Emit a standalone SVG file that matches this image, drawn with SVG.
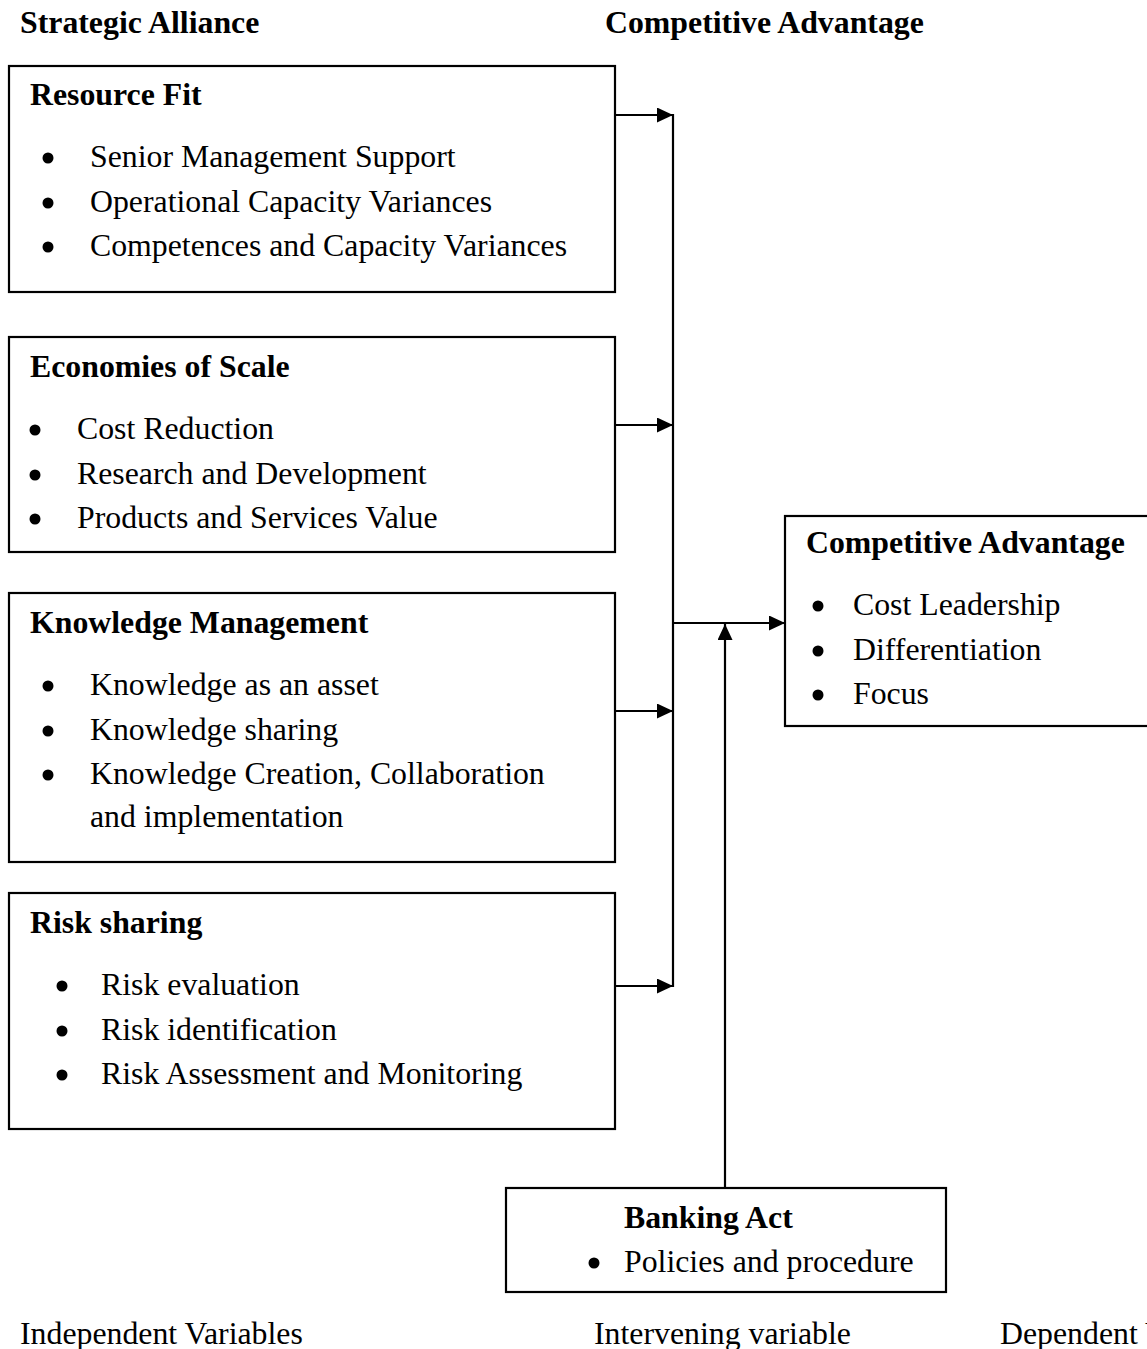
<svg xmlns="http://www.w3.org/2000/svg" width="1147" height="1349" viewBox="0 0 1147 1349">
<defs>
<style>
text{font-family:"Liberation Serif","Times New Roman",serif;font-size:31.8px;fill:#000}
.b{font-weight:bold}
.box{fill:#fff;stroke:#000;stroke-width:2.2}
.ln{stroke:#000;stroke-width:2.2;fill:none}
.dot{fill:#000}
</style>
<marker id="ah" viewBox="0 0 16 15" refX="16" refY="7.5" markerWidth="16" markerHeight="15" markerUnits="userSpaceOnUse" orient="auto">
<path d="M0,0 L16,7.5 L0,15 Z" fill="#000"/>
</marker>
</defs>
<rect width="1147" height="1349" fill="#fff"/>

<g id="headers">
<text class="b" x="20" y="33">Strategic Alliance</text>
<text class="b" x="605" y="33">Competitive Advantage</text>
</g>

<g id="resource-fit">
<rect class="box" x="9" y="66" width="606" height="226"/>
<text class="b" x="30" y="105">Resource Fit</text>
<circle class="dot" cx="48" cy="158" r="5.5"/>
<text x="90" y="167">Senior Management Support</text>
<circle class="dot" cx="48" cy="203" r="5.5"/>
<text x="90" y="211.5">Operational Capacity Variances</text>
<circle class="dot" cx="48" cy="247" r="5.5"/>
<text x="90" y="256">Competences and Capacity Variances</text>
</g>

<g id="economies-of-scale">
<rect class="box" x="9" y="337" width="606" height="215"/>
<text class="b" x="30" y="377">Economies of Scale</text>
<circle class="dot" cx="35" cy="430" r="5.5"/>
<text x="77" y="439">Cost Reduction</text>
<circle class="dot" cx="35" cy="475" r="5.5"/>
<text x="77" y="484">Research and Development</text>
<circle class="dot" cx="35" cy="519" r="5.5"/>
<text x="77" y="528">Products and Services Value</text>
</g>

<g id="knowledge-management">
<rect class="box" x="9" y="593" width="606" height="269"/>
<text class="b" x="30" y="633">Knowledge Management</text>
<circle class="dot" cx="48" cy="686" r="5.5"/>
<text x="90" y="695">Knowledge as an asset</text>
<circle class="dot" cx="48" cy="731" r="5.5"/>
<text x="90" y="740">Knowledge sharing</text>
<circle class="dot" cx="48" cy="775" r="5.5"/>
<text x="90" y="784">Knowledge Creation, Collaboration</text>
<text x="90" y="827">and implementation</text>
</g>

<g id="risk-sharing">
<rect class="box" x="9" y="893" width="606" height="236"/>
<text class="b" x="30" y="933">Risk sharing</text>
<circle class="dot" cx="62" cy="986" r="5.5"/>
<text x="101" y="995">Risk evaluation</text>
<circle class="dot" cx="62" cy="1031" r="5.5"/>
<text x="101" y="1040">Risk identification</text>
<circle class="dot" cx="62" cy="1075" r="5.5"/>
<text x="101" y="1084">Risk Assessment and Monitoring</text>
</g>

<g id="competitive-advantage">
<rect class="box" x="785" y="516" width="380" height="210"/>
<text class="b" x="806" y="553">Competitive Advantage</text>
<circle class="dot" cx="818" cy="606" r="5.5"/>
<text x="853" y="615">Cost Leadership</text>
<circle class="dot" cx="818" cy="651" r="5.5"/>
<text x="853" y="660">Differentiation</text>
<circle class="dot" cx="818" cy="695" r="5.5"/>
<text x="853" y="704">Focus</text>
</g>

<g id="banking-act">
<rect class="box" x="506" y="1188" width="440" height="104"/>
<text class="b" x="624" y="1228">Banking Act</text>
<circle class="dot" cx="594" cy="1263" r="5.5"/>
<text x="624" y="1272">Policies and procedure</text>
</g>

<g id="connectors">
<line class="ln" x1="673" y1="114" x2="673" y2="987"/>
<line class="ln" x1="615" y1="115" x2="673" y2="115" marker-end="url(#ah)"/>
<line class="ln" x1="615" y1="425" x2="673" y2="425" marker-end="url(#ah)"/>
<line class="ln" x1="615" y1="711" x2="673" y2="711" marker-end="url(#ah)"/>
<line class="ln" x1="615" y1="986" x2="673" y2="986" marker-end="url(#ah)"/>
<line class="ln" x1="673" y1="623" x2="785" y2="623" marker-end="url(#ah)"/>
<line class="ln" x1="725" y1="1188" x2="725" y2="624" marker-end="url(#ah)"/>
</g>

<g id="footer">
<text x="20" y="1344">Independent Variables</text>
<text x="594" y="1344">Intervening variable</text>
<text x="1000" y="1344">Dependent Variable</text>
</g>
</svg>
